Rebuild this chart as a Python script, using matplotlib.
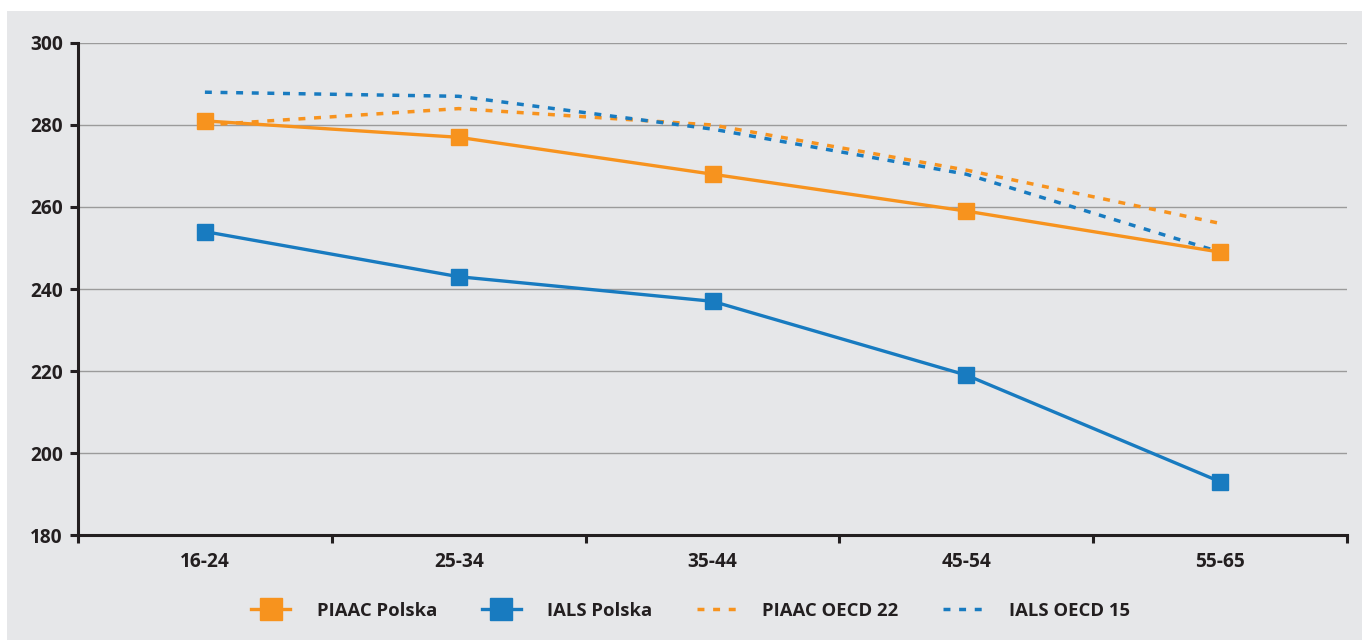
import matplotlib
matplotlib.use("Agg")
import matplotlib.pyplot as plt
from matplotlib.patches import Rectangle
from matplotlib.ticker import FixedLocator

# Age groups and mean literacy scores
age_groups = ["16-24", "25-34", "35-44", "45-54", "55-65"]
piaac_polska = [281, 277, 268, 259, 249]
ials_polska = [254, 243, 237, 219, 193]
piaac_oecd22 = [280, 284, 280, 269, 256]
ials_oecd15 = [288, 287, 279, 268, 249]
y_ticks = [180, 200, 220, 240, 260, 280, 300]

ORANGE = "#F7931E"
BLUE = "#187BC0"
BG = "#E6E7E9"
DARK = "#231F20"

plt.rcParams["font.family"] = ["Open Sans", "DejaVu Sans"]

fig = plt.figure(figsize=(13.62, 6.4), dpi=100, facecolor="white")
fig.patches.append(Rectangle((7 / 1362, 0), 1 - 7 / 1362, 629 / 640,
                             transform=fig.transFigure, facecolor=BG,
                             edgecolor="none", zorder=-10))

ax = fig.add_axes([78 / 1362, 105 / 640, 1269 / 1362, 492 / 640])
ax.set_facecolor("none")

x = list(range(len(age_groups)))
lw = 2.4
ax.plot(x, piaac_oecd22, color=ORANGE, lw=2.5, linestyle=(0, (2.0, 2.5)),
        label="PIAAC OECD 22", zorder=3)
ax.plot(x, ials_oecd15, color=BLUE, lw=2.5, linestyle=(0, (2.0, 2.5)),
        label="IALS OECD 15", zorder=3)
ax.plot(x, piaac_polska, color=ORANGE, lw=lw, marker="s", markersize=11.5,
        label="PIAAC Polska", zorder=4)
ax.plot(x, ials_polska, color=BLUE, lw=lw, marker="s", markersize=11.5,
        label="IALS Polska", zorder=4)

ax.set_xlim(-0.5, len(age_groups) - 0.5)
ax.set_ylim(180, 300)
ax.set_yticks(y_ticks)
ax.yaxis.grid(True, color="#9B9B9B", lw=1.0)
ax.set_axisbelow(True)

ax.set_xticks(x)
ax.set_xticklabels(age_groups)
ax.xaxis.set_minor_locator(FixedLocator([i - 0.5 for i in range(len(age_groups) + 1)]))
ax.tick_params(axis="x", which="major", length=0, pad=12)
ax.tick_params(axis="x", which="minor", length=6, width=2.2, color=DARK, direction="out")
ax.tick_params(axis="y", length=6, width=2.2, color=DARK, direction="out", pad=5)

for lab in ax.get_xticklabels() + ax.get_yticklabels():
    lab.set_fontsize(13.8)
    lab.set_fontweight("bold")
    lab.set_color(DARK)

for side in ("top", "right"):
    ax.spines[side].set_visible(False)
for side in ("left", "bottom"):
    ax.spines[side].set_color(DARK)
    ax.spines[side].set_linewidth(2.2)

handles, labels = ax.get_legend_handles_labels()
order = [2, 3, 0, 1]
leg = fig.legend([handles[i] for i in order], [labels[i] for i in order],
                 loc="center", bbox_to_anchor=(0.507, 0.046), ncol=4,
                 frameon=False, handlelength=2.1, handletextpad=1.45,
                 columnspacing=2.4, markerscale=1.35,
                 prop={"size": 13.3, "weight": "bold"})
for t in leg.get_texts():
    t.set_color(DARK)

fig.savefig("out.png", dpi=100, facecolor="white")
